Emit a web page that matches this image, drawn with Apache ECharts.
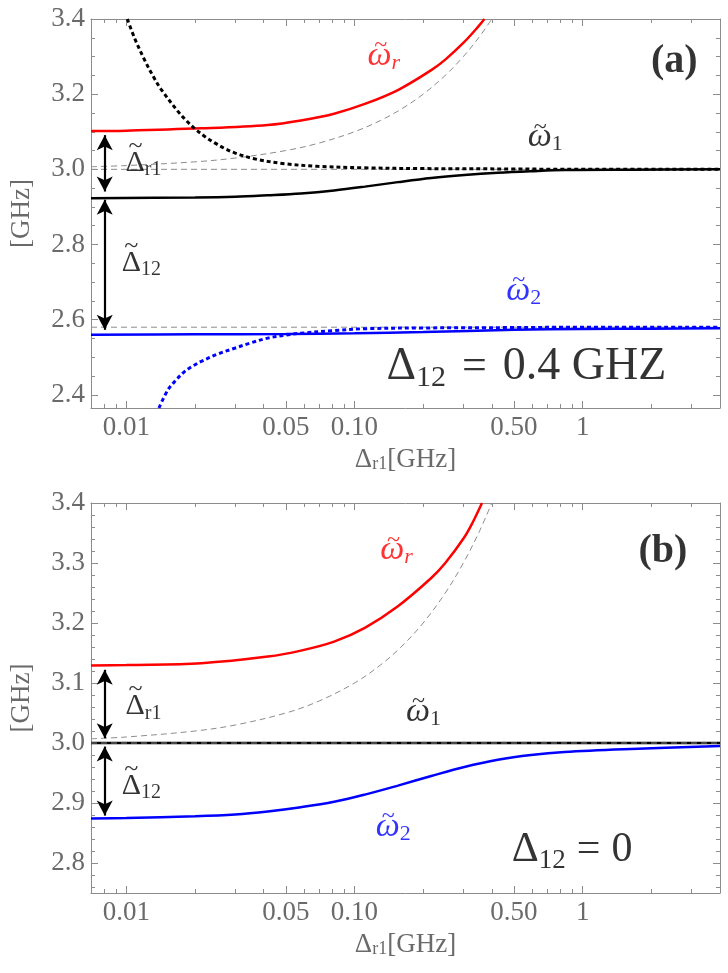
<!DOCTYPE html>
<html>
<head>
<meta charset="utf-8">
<script src="https://cdn.jsdelivr.net/npm/echarts@6/dist/echarts.min.js"></script>
<style>
  html, body { margin: 0; padding: 0; background: #fff; }
  #main { width: 728px; height: 973px; }
</style>
</head>
<body>
<div id="main"></div>
<script>
// x axis: detuning Δr1 [GHz], drawn on log scale; y axis: frequency [GHz]
const xMin = 0.007, xMax = 4;
const xMajor = [0.01, 0.05, 0.1, 0.5, 1];
const xMajorLabels = ['0.01', '0.05', '0.10', '0.50', '1'];
const xMinor = [0.007, 0.008, 0.009, 0.02, 0.03, 0.04, 0.06, 0.07, 0.08, 0.09,
  0.2, 0.3, 0.4, 0.6, 0.7, 0.8, 0.9, 2, 3, 4];

const yRangeA = [2.365, 3.4];
const yMajorA = [2.4, 2.6, 2.8, 3.0, 3.2, 3.4];
const yMinorA = [2.45, 2.5, 2.55, 2.65, 2.7, 2.75, 2.85, 2.9, 2.95, 3.05, 3.1, 3.15, 3.25, 3.3, 3.35];
const yRangeB = [2.75, 3.4];
const yMajorB = [2.8, 2.9, 3.0, 3.1, 3.2, 3.3, 3.4];
const yMinorB = [2.76, 2.78, 2.82, 2.84, 2.86, 2.88, 2.92, 2.94, 2.96, 2.98, 3.02, 3.04, 3.06, 3.08,
  3.12, 3.14, 3.16, 3.18, 3.22, 3.24, 3.26, 3.28, 3.32, 3.34, 3.36, 3.38];

// bare resonator (gray dashed), same in both panels
const resBareX = [0.007, 0.01, 0.02, 0.03, 0.05, 0.07, 0.1, 0.13, 0.16, 0.2, 0.25, 0.3, 0.35, 0.4];
const resBareY = [3.007, 3.01, 3.02, 3.03, 3.05, 3.07, 3.1, 3.13, 3.16, 3.2, 3.25, 3.3, 3.35, 3.4];

// panel (a), Δ12 = 0.4 GHz
const aRedX = [0.007, 0.01, 0.0213, 0.0417, 0.0582, 0.0814, 0.111, 0.155, 0.217, 0.25, 0.303, 0.35, 0.371];
const aRedY = [3.102, 3.103, 3.109, 3.118, 3.130, 3.148, 3.174, 3.211, 3.264, 3.292, 3.339, 3.381, 3.4];
const aW1X = [0.007, 0.02, 0.03, 0.0417, 0.0582, 0.0814, 0.111, 0.155, 0.217, 0.303, 0.425, 0.594, 0.832, 1.63, 4];
const aW1Y = [2.923, 2.925, 2.927, 2.931, 2.936, 2.944, 2.954, 2.966, 2.977, 2.985, 2.991, 2.995, 2.998, 2.999, 3.0];
const aW2X = [0.007, 0.02, 0.05, 0.1, 0.2, 0.5, 1, 2, 4];
const aW2Y = [2.560, 2.561, 2.562, 2.564, 2.567, 2.573, 2.575, 2.576, 2.577];
const aDot1X = [0.0101, 0.0109, 0.012, 0.0131, 0.0142, 0.0168, 0.0183, 0.0199, 0.022, 0.0243, 0.0269, 0.0298,
  0.0364, 0.0492, 0.0689, 0.111, 0.2, 0.5, 1, 4];
const aDot1Y = [3.4, 3.347, 3.292, 3.248, 3.213, 3.155, 3.130, 3.109, 3.088, 3.071, 3.056, 3.044,
  3.028, 3.015, 3.008, 3.004, 3.002, 3.001, 3.0, 3.0];
const aDot2X = [0.0139, 0.0152, 0.0165, 0.018, 0.0196, 0.0213, 0.025, 0.0298, 0.035, 0.0417, 0.05, 0.0582,
  0.0814, 0.111, 0.2, 0.5, 1, 4];
const aDot2Y = [2.365, 2.413, 2.439, 2.462, 2.477, 2.489, 2.508, 2.524, 2.538, 2.551, 2.559, 2.564,
  2.571, 2.576, 2.578, 2.579, 2.58, 2.58];
const aRefY = [3.0, 2.58];

// panel (b), Δ12 = 0
const bRedX = [0.007, 0.01, 0.0213, 0.0417, 0.0582, 0.0814, 0.111, 0.155, 0.217, 0.25, 0.303, 0.33, 0.362];
const bRedY = [3.129, 3.130, 3.133, 3.144, 3.154, 3.169, 3.192, 3.228, 3.275, 3.300, 3.343, 3.368, 3.4];
const bW2X = [0.007, 0.01, 0.02, 0.03, 0.0417, 0.0582, 0.0814, 0.111, 0.155, 0.217, 0.303, 0.425, 0.594, 0.832, 1.63, 4];
const bW2Y = [2.874, 2.875, 2.878, 2.881, 2.886, 2.893, 2.902, 2.914, 2.929, 2.945, 2.960, 2.972, 2.980, 2.985, 2.990, 2.995];
const bW1Y = 3.0;

// arrows [x, yFrom, yTo]
const aArrows = [[0.00804, 3.091, 2.941], [0.00804, 2.919, 2.573]];
const bArrows = [[0.00804, 3.122, 3.008], [0.00804, 2.994, 2.879]];

// annotations [x, y, rich text, tilde style or null, tilde dx, tilde dy]
const aNotes = [
  [0.1344, 3.302, '{wr|ω}{sr|r}', 'tr', -3, -10],
  [2.52, 3.286, '{bold|(a)}', null],
  [0.686, 3.085, '{w|ω}{n|1}', 't', -5, -10],
  [0.552, 2.677, '{wb|ω}{nb|2}', 'tb', -5, -10],
  [0.567, 2.473, '{D|Δ}{Dn|12}{Eq|=}{D|0.4 GHZ}', null],
  [0.01188, 3.017, '{d|Δ}{dn|r1}', 'td', -8, -17],
  [0.01163, 2.751, '{d|Δ}{dn|12}', 'td', -10, -17]
];
const bNotes = [
  [0.1527, 3.321, '{wr|ω}{sr|r}', 'tr', -3, -10],
  [2.25, 3.319, '{bold|(b)}', null],
  [0.2007, 3.052, '{w|ω}{n|1}', 't', -5, -10],
  [0.148, 2.860, '{wb|ω}{nb|2}', 'tb', -5, -10],
  [0.9, 2.821, '{E|Δ}{En|12}{Eb|=}{E|0}', null],
  [0.01188, 3.061, '{d|Δ}{dn|r1}', 'td', -8, -17],
  [0.01163, 2.928, '{d|Δ}{dn|12}', 'td', -10, -17]
];

const lg = v => Math.log10(v);
const pts = (xs, ys) => xs.map((x, i) => [lg(x), ys[i]]);
const serif = 'Liberation Serif';
const frame = '#8c8c8c';
const labelGray = '#6a6a6a';

const rich = {
  w: {fontFamily: serif, fontStyle: 'italic', fontSize: 34, lineHeight: 36, color: '#000'},
  n: {fontFamily: serif, fontSize: 22, lineHeight: 22, verticalAlign: 'bottom', color: '#000'},
  wr: {fontFamily: serif, fontStyle: 'italic', fontSize: 34, lineHeight: 36, color: '#ff0000'},
  sr: {fontFamily: serif, fontStyle: 'italic', fontSize: 22, lineHeight: 22, verticalAlign: 'bottom', color: '#ff0000'},
  wb: {fontFamily: serif, fontStyle: 'italic', fontSize: 34, lineHeight: 36, color: '#0000ff'},
  nb: {fontFamily: serif, fontSize: 22, lineHeight: 22, verticalAlign: 'bottom', color: '#0000ff'},
  d: {fontFamily: serif, fontSize: 30, lineHeight: 34, color: '#000'},
  dn: {fontFamily: serif, fontSize: 20, lineHeight: 20, verticalAlign: 'bottom', color: '#000'},
  D: {fontFamily: serif, fontSize: 46, lineHeight: 52, color: '#000'},
  Dn: {fontFamily: serif, fontSize: 30, lineHeight: 30, verticalAlign: 'bottom', color: '#000'},
  Eq: {fontFamily: serif, fontSize: 44, lineHeight: 50, padding: [0, 16, 0, 16], color: '#000'},
  E: {fontFamily: serif, fontSize: 42, lineHeight: 48, color: '#000'},
  En: {fontFamily: serif, fontSize: 27, lineHeight: 27, verticalAlign: 'bottom', color: '#000'},
  Eb: {fontFamily: serif, fontSize: 42, lineHeight: 48, padding: [0, 11, 0, 11], color: '#000'},
  bold: {fontFamily: serif, fontWeight: 'bold', fontSize: 40, color: '#000'},
  t: {fontFamily: serif, fontSize: 24, color: '#000'},
  tr: {fontFamily: serif, fontSize: 24, color: '#ff0000'},
  tb: {fontFamily: serif, fontSize: 24, color: '#0000ff'},
  td: {fontFamily: serif, fontSize: 26, color: '#000'}
};

function xFmt(v) {
  for (let i = 0; i < xMajor.length; i++) {
    if (Math.abs(lg(xMajor[i]) - v) < 1e-6) return xMajorLabels[i];
  }
  return '';
}

function xAxes(g) {
  const base = {
    type: 'value', gridIndex: g, min: lg(xMin), max: lg(xMax),
    splitLine: {show: false}, axisLine: {show: true, onZero: false, lineStyle: {color: frame, width: 1}}
  };
  const noLine = {show: false, onZero: false};
  return [
    Object.assign({}, base, {
      position: 'bottom',
      axisTick: {inside: true, length: 7, customValues: xMajor.map(lg), lineStyle: {color: frame}},
      axisLabel: {customValues: xMajor.map(lg), formatter: xFmt, color: labelGray, fontFamily: serif, fontSize: 27, margin: 6},
      name: '{d|Δ}{s|r1}{t|[GHz]}', nameLocation: 'middle', nameGap: 38,
      nameTextStyle: {
        color: labelGray, fontFamily: serif, rich: {
          d: {fontFamily: serif, fontSize: 27, color: labelGray},
          s: {fontFamily: serif, fontSize: 18, color: labelGray, verticalAlign: 'bottom', lineHeight: 18},
          t: {fontFamily: serif, fontSize: 27, color: labelGray}
        }
      }
    }),
    Object.assign({}, base, {
      position: 'bottom', axisLine: noLine,
      axisTick: {inside: true, length: 4, customValues: xMinor.map(lg), lineStyle: {color: frame}},
      axisLabel: {show: false}
    }),
    Object.assign({}, base, {
      position: 'top',
      axisTick: {inside: true, length: 7, customValues: xMajor.map(lg), lineStyle: {color: frame}},
      axisLabel: {show: false}
    }),
    Object.assign({}, base, {
      position: 'top', axisLine: noLine,
      axisTick: {inside: true, length: 4, customValues: xMinor.map(lg), lineStyle: {color: frame}},
      axisLabel: {show: false}
    })
  ];
}

function yAxes(g, range, major, minor) {
  const base = {
    type: 'value', gridIndex: g, min: range[0], max: range[1],
    splitLine: {show: false}, axisLine: {show: true, onZero: false, lineStyle: {color: frame, width: 1}}
  };
  const noLine = {show: false, onZero: false};
  return [
    Object.assign({}, base, {
      position: 'left',
      axisTick: {inside: true, length: 7, customValues: major, lineStyle: {color: frame}},
      axisLabel: {customValues: major, formatter: v => v.toFixed(1), color: labelGray, fontFamily: serif, fontSize: 27, margin: 6},
      name: '[GHz]', nameLocation: 'middle', nameGap: 56,
      nameTextStyle: {color: labelGray, fontFamily: serif, fontSize: 27}
    }),
    Object.assign({}, base, {
      position: 'left', axisLine: noLine,
      axisTick: {inside: true, length: 4, customValues: minor, lineStyle: {color: frame}},
      axisLabel: {show: false}
    }),
    Object.assign({}, base, {
      position: 'right',
      axisTick: {inside: true, length: 7, customValues: major, lineStyle: {color: frame}},
      axisLabel: {show: false}
    }),
    Object.assign({}, base, {
      position: 'right', axisLine: noLine,
      axisTick: {inside: true, length: 4, customValues: minor, lineStyle: {color: frame}},
      axisLabel: {show: false}
    })
  ];
}

function line(g, data, color, width, type, smooth) {
  return {
    type: 'line', xAxisIndex: g * 4, yAxisIndex: g * 4, data: data,
    showSymbol: false, symbol: 'none', smooth: smooth ? 0.35 : false,
    lineStyle: {color: color, width: width, type: type, cap: 'butt'},
    silent: true, z: width > 2 ? 3 : 2
  };
}

function notesSeries(g, notes, arrows) {
  const data = [];
  notes.forEach(n => {
    data.push({value: [lg(n[0]), n[1]], label: {formatter: n[2]}});
    if (n[3]) {
      data.push({value: [lg(n[0]), n[1]], label: {formatter: '{' + n[3] + '|~}', offset: [n[4], n[5]]}});
    }
  });
  return {
    type: 'scatter', xAxisIndex: g * 4, yAxisIndex: g * 4,
    symbolSize: 1, itemStyle: {color: 'rgba(0,0,0,0)'}, silent: true, z: 5,
    label: {show: true, position: 'inside', fontFamily: serif, rich: rich},
    data: data,
    markLine: {
      silent: true, symbol: ['arrow', 'arrow'], symbolSize: [12, 15],
      lineStyle: {color: '#000', width: 2.2, type: 'solid'},
      label: {show: false},
      data: arrows.map(a => [{coord: [lg(a[0]), a[1]]}, {coord: [lg(a[0]), a[2]]}])
    }
  };
}

const gray = '#8c8c8c';
const series = [
  // (a)
  line(0, pts(resBareX, resBareY), gray, 1, [6, 4], true),
  line(0, [[lg(xMin), aRefY[0]], [lg(xMax), aRefY[0]]], gray, 1, [6, 4], false),
  line(0, [[lg(xMin), aRefY[1]], [lg(xMax), aRefY[1]]], gray, 1, [6, 4], false),
  line(0, pts(aRedX, aRedY), '#ff0000', 2.5, 'solid', true),
  line(0, pts(aW1X, aW1Y), '#000000', 2.5, 'solid', true),
  line(0, pts(aW2X, aW2Y), '#0000ff', 2.5, 'solid', true),
  line(0, pts(aDot1X, aDot1Y), '#000000', 3, [4, 3], true),
  line(0, pts(aDot2X, aDot2Y), '#0000ff', 3, [4, 3], true),
  notesSeries(0, aNotes, aArrows),
  // (b)
  line(1, [[lg(xMin), bW1Y], [lg(xMax), bW1Y]], '#000000', 2.5, 'solid', false),
  line(1, pts(resBareX, resBareY), gray, 1, [6, 4], true),
  line(1, [[lg(xMin), bW1Y], [lg(xMax), bW1Y]], gray, 1, [6, 4], false),
  line(1, pts(bRedX, bRedY), '#ff0000', 2.5, 'solid', true),
  line(1, pts(bW2X, bW2Y), '#0000ff', 2.5, 'solid', true),
  notesSeries(1, bNotes, bArrows)
];
series[11].z = 4;

const chart = echarts.init(document.getElementById('main'), null, {renderer: 'canvas'});
chart.setOption({
  animation: false,
  backgroundColor: '#fff',
  textStyle: {fontFamily: serif},
  grid: [
    {left: 89, top: 19, width: 631, height: 389},
    {left: 89, top: 503, width: 631, height: 390}
  ],
  xAxis: xAxes(0).concat(xAxes(1)),
  yAxis: yAxes(0, yRangeA, yMajorA, yMinorA).concat(yAxes(1, yRangeB, yMajorB, yMinorB)),
  series: series
});
</script>
</body>
</html>
